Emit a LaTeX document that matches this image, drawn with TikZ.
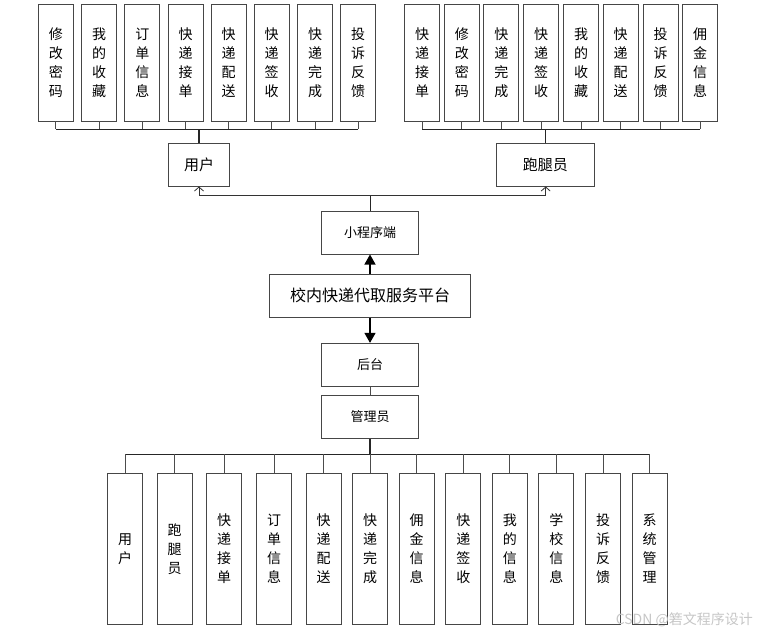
\documentclass[tikz,border=0pt]{standalone}
\usepackage{fontspec}
\newfontfamily\cjk{Noto Sans CJK SC}
\usetikzlibrary{arrows.meta}
\tikzset{
  box/.style={draw=gray!55!black, line width=0.9pt, fill=white, inner sep=0pt, align=center, font=\cjk\fontsize{13}{15}\selectfont},
  vbox/.style={box, minimum width=35pt, font=\cjk\fontsize{14}{19}\selectfont},
  topv/.style={vbox, minimum height=117pt},
  botv/.style={vbox, minimum height=151pt},
  stub/.style={draw=gray!60!black, line width=0.9pt},
  bus/.style={draw=black!85, line width=1pt},
  openarrow/.style={draw=black!80, line width=0.8pt, -{Straight Barb[length=4pt,width=9pt]}},
  fillarrow/.style={draw=black, line width=1.2pt, -{Triangle[length=10pt,width=11pt]}}
}
\begin{document}
\begin{tikzpicture}[x=1pt,y=-1pt]
\useasboundingbox (0,0) rectangle (761,634);
% user features
\node[topv] (a1) at (55.8,62.5) {修\\改\\密\\码};
\node[topv] (a2) at (99.2,62.5) {我\\的\\收\\藏};
\node[topv] (a3) at (142.3,62.5) {订\\单\\信\\息};
\node[topv] (a4) at (185.5,62.5) {快\\递\\接\\单};
\node[topv] (a5) at (228.7,62.5) {快\\递\\配\\送};
\node[topv] (a6) at (271.7,62.5) {快\\递\\签\\收};
\node[topv] (a7) at (315,62.5) {快\\递\\完\\成};
\node[topv] (a8) at (358,62.5) {投\\诉\\反\\馈};
% runner features
\node[topv] (b1) at (422.2,62.5) {快\\递\\接\\单};
\node[topv] (b2) at (461.8,62.5) {修\\改\\密\\码};
\node[topv] (b3) at (501.3,62.5) {快\\递\\完\\成};
\node[topv] (b4) at (541.2,62.5) {快\\递\\签\\收};
\node[topv] (b5) at (581,62.5) {我\\的\\收\\藏};
\node[topv] (b6) at (620.7,62.5) {快\\递\\配\\送};
\node[topv] (b7) at (660.5,62.5) {投\\诉\\反\\馈};
\node[topv] (b8) at (700,62.5) {佣\\金\\信\\息};
% roles
\node[box, minimum width=61.4pt, minimum height=42.7pt, font=\cjk\fontsize{15}{17}\selectfont] (u) at (199,164.7) {用户};
\node[box, minimum width=97.3pt, minimum height=42.7pt, font=\cjk\fontsize{15}{17}\selectfont] (r) at (545.4,164.7) {跑腿员};
% center chain
\node[box, minimum width=97pt, minimum height=42.7pt] (m) at (370,232.7) {小程序端};
\node[box, minimum width=201.4pt, minimum height=42.7pt, font=\cjk\fontsize{16}{18}\selectfont] (p) at (370,295.7) {校内快递代取服务平台};
\node[box, minimum width=97pt, minimum height=42.7pt] (h) at (370,364.7) {后台};
\node[box, minimum width=97pt, minimum height=43.3pt] (g) at (370,416.7) {管理员};
% admin features
\node[botv] (c1) at (125,548.8) {用\\户};
\node[botv] (c2) at (174.7,548.8) {跑\\腿\\员};
\node[botv] (c3) at (224.2,548.8) {快\\递\\接\\单};
\node[botv] (c4) at (274,548.8) {订\\单\\信\\息};
\node[botv] (c5) at (323.7,548.8) {快\\递\\配\\送};
\node[botv] (c6) at (370,548.8) {快\\递\\完\\成};
\node[botv] (c7) at (416.7,548.8) {佣\\金\\信\\息};
\node[botv] (c8) at (463.3,548.8) {快\\递\\签\\收};
\node[botv] (c9) at (509.8,548.8) {我\\的\\信\\息};
\node[botv] (c10) at (556.3,548.8) {学\\校\\信\\息};
\node[botv] (c11) at (603,548.8) {投\\诉\\反\\馈};
\node[botv] (c12) at (649.5,548.8) {系\\统\\管\\理};
% bus coordinates
\coordinate (ubus) at (199,129);
\coordinate (rbus) at (545.7,129);
\coordinate (mbus) at (370,195);
\coordinate (abus) at (370,454.3);
% user tree
\foreach \i in {1,...,8} { \draw[stub] (a\i.south) -- (a\i.south |- ubus); }
\draw[bus] (a1.south |- ubus) -- (a8.south |- ubus);
\draw[bus, line width=1.6pt] (ubus) -- (ubus |- u.north);
% runner tree
\foreach \i in {1,...,8} { \draw[stub] (b\i.south) -- (b\i.south |- rbus); }
\draw[bus] (b1.south |- rbus) -- (b8.south |- rbus);
\draw[bus, line width=1.4pt] (rbus) -- (rbus |- r.north);
% mini program to roles
\draw[bus] (m.north) -- (mbus);
\draw[openarrow] (mbus) -| (u.south);
\draw[openarrow] (mbus) -| (r.south -| rbus);
% platform
\draw[fillarrow] (p.north) -- (m.south);
\draw[fillarrow] (p.south) -- (h.north);
\draw[stub] (h.south) -- (g.north);
\draw[bus, line width=1.8pt] (g.south) -- (abus);
% admin tree
\draw[bus] (c1.north |- abus) -- (c12.north |- abus);
\foreach \i in {1,...,12} { \draw[stub] (c\i.north |- abus) -- (c\i.north); }
% watermark
\node[anchor=east, text=gray!45, font=\cjk\fontsize{14}{16}\selectfont, inner sep=0pt] (wm) at (753,620) {CSDN @箬文程序设计};
\end{tikzpicture}
\end{document}
